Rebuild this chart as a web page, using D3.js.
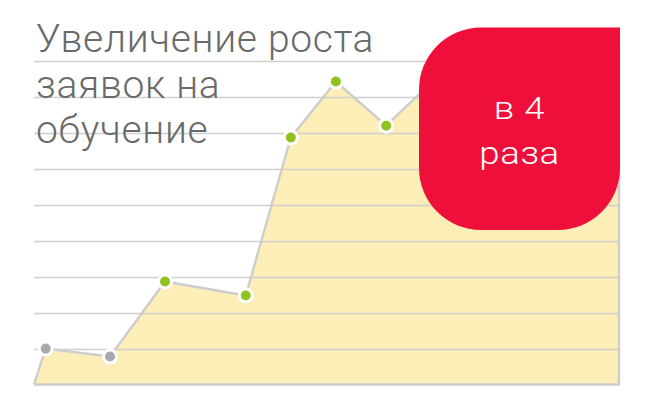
<!DOCTYPE html>
<html><head><meta charset="utf-8">
<script src="https://cdn.jsdelivr.net/npm/d3@7/dist/d3.min.js"></script>
<style>html,body{margin:0;padding:0;background:#fff;}svg{display:block;}</style>
</head><body>
<svg id="c" width="656" height="411"></svg>
<script>
// Data (x position in % of period, value in grid units)
const xPos   = [0, 2.0, 13.0, 22.4, 36.2, 43.9, 51.6, 60.2, 72, 86, 100];
const values = [0, 1.0, 0.78, 2.87, 2.48, 6.88, 8.44, 7.21, 9.05, 8.7, 9.3];
const dotColor = [null, "grey", "grey", "green", "green", "green", "green", "green", "green", "green", null];
const gridTicks = [1, 2, 3, 4, 5, 6, 7, 8, 9];
const titleLines = ["Увеличение роста", "заявок на", "обучение"];
const badgeLines = ["в 4", "раза"];

const svg = d3.select("#c");
const x = d3.scaleLinear().domain([0, 100]).range([34, 619]);
const y = d3.scaleLinear().domain([0, 10]).range([384.5, 25.5]);

const pts = xPos.map((p, i) => ({x: p, v: values[i], c: dotColor[i]}));

// area fill
const area = d3.area().x(d => x(d.x)).y0(y(0)).y1(d => y(d.v));
svg.append("path").datum(pts).attr("d", area).attr("fill", "#fdedb6");

// gridlines
svg.append("g").selectAll("line").data(gridTicks).join("line")
  .attr("x1", x(0)).attr("x2", x(100) + 1)
  .attr("y1", d => Math.round(y(d)) + 0.5).attr("y2", d => Math.round(y(d)) + 0.5)
  .attr("stroke", "#cfcfcf").attr("stroke-width", 1.3);

// outline
const outline = pts.concat([{x: 100, v: 0}, {x: 0, v: 0}]);
svg.append("path").datum(outline)
  .attr("d", d3.line().x(d => x(d.x)).y(d => y(d.v)))
  .attr("fill", "none").attr("stroke", "#cdcdcd").attr("stroke-width", 2.4)
  .attr("stroke-linejoin", "round");

// dots
svg.append("g").selectAll("circle").data(pts.filter(d => d.c)).join("circle")
  .attr("cx", d => x(d.x)).attr("cy", d => y(d.v)).attr("r", 6.5)
  .attr("fill", d => d.c === "grey" ? "#a9a9ad" : "#8fc31f")
  .attr("stroke", "#fff").attr("stroke-width", 3);

// title
svg.append("text").attr("x", 36).attr("y", 52)
  .attr("font-family", "Roboto").attr("font-weight", 300).attr("font-size", 39)
  .attr("letter-spacing", 0.7)
  .attr("fill", "#6a6a6a")
  .selectAll("tspan").data(titleLines).join("tspan")
  .attr("x", 36).attr("dy", (d, i) => i === 0 ? 0 : 45.7).text(d => d);

// badge
const bx0 = 419, bx1 = 620, by0 = 27.5, by1 = 230, r = 62;
const bp = d3.path();
bp.moveTo(bx0 + r, by0);
bp.lineTo(bx1, by0);
bp.lineTo(bx1, by1 - r);
bp.arcTo(bx1, by1, bx1 - r, by1, r);
bp.lineTo(bx0 + r, by1);
bp.arcTo(bx0, by1, bx0, by1 - r, r);
bp.lineTo(bx0, by0 + r);
bp.arcTo(bx0, by0, bx0 + r, by0, r);
bp.closePath();
svg.append("path").attr("d", bp.toString()).attr("fill", "#ef0f3b");

svg.append("g").attr("transform", `translate(${(bx0 + bx1) / 2},0) scale(1.18,1)`)
  .append("text").attr("text-anchor", "middle")
  .attr("font-family", "Roboto").attr("font-weight", 300).attr("font-size", 31)
  .attr("letter-spacing", 0.5)
  .attr("fill", "#fff")
  .selectAll("tspan").data(badgeLines).join("tspan")
  .attr("x", 0).attr("y", (d, i) => 119.5 + i * 45).text(d => d);
</script>
</body></html>
